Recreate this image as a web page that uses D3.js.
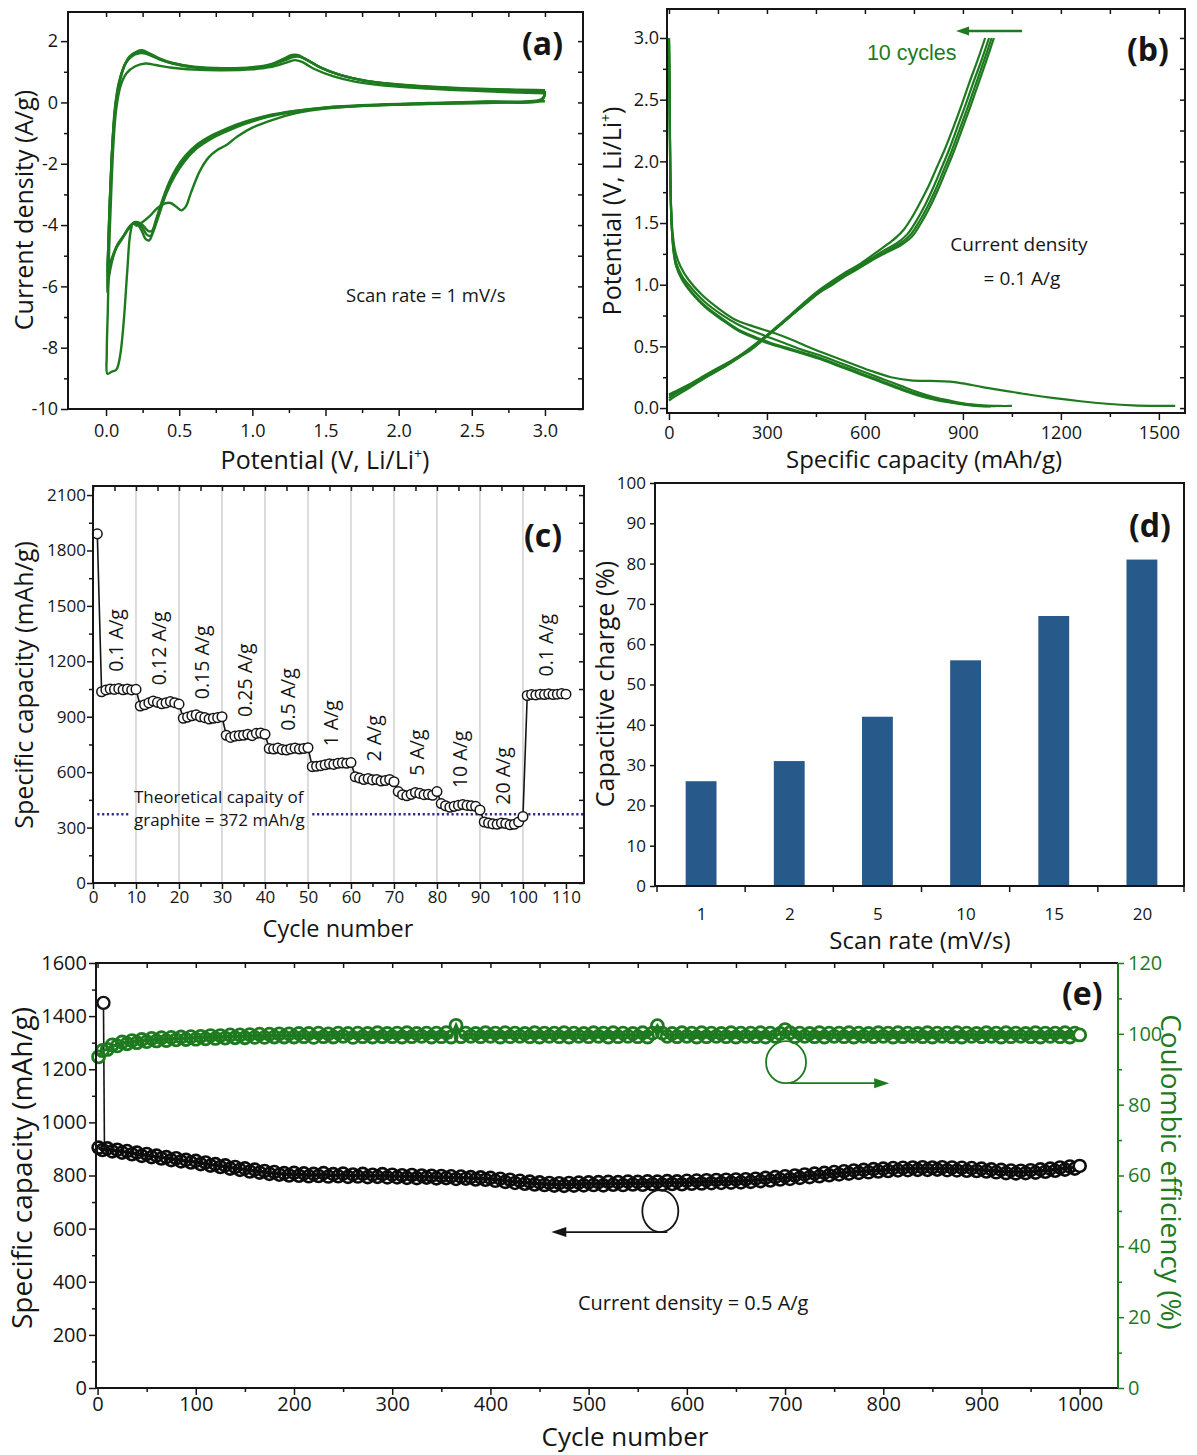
<!DOCTYPE html>
<html>
<head>
<meta charset="utf-8">
<title>Anode electrochemical performance</title>
<script src="https://cdn.jsdelivr.net/npm/d3@7"></script>
<style>
  html, body { margin: 0; padding: 0; background: #fff; }
  svg { display: block; }
</style>
</head>
<body>
<svg id="fig" width="1197" height="1455"></svg>
<script>
// ================= DATA =================

// (a) cyclic voltammograms at 1 mV/s, [potential (V), current density (A/g)]
const cvCycle1 = [
  [3.00, 0.04], [2.60, -0.02], [2.20, -0.05], [1.80, -0.10], [1.50, -0.20], [1.30, -0.35],
  [1.15, -0.55], [1.00, -0.82], [0.90, -1.10], [0.82, -1.40], [0.76, -1.55], [0.70, -1.80],
  [0.64, -2.25], [0.58, -2.95], [0.545, -3.40], [0.515, -3.52], [0.48, -3.40], [0.44, -3.28],
  [0.40, -3.30], [0.35, -3.45], [0.30, -3.70], [0.25, -3.90], [0.21, -4.02], [0.185, -3.95],
  [0.165, -4.30], [0.145, -5.50], [0.12, -7.20], [0.095, -8.30], [0.07, -8.72], [0.04, -8.78],
  [0.01, -8.85], [0.005, -8.2], [0.012, -6.8], [0.02, -5.0], [0.035, -3.0], [0.05, -1.4],
  [0.07, -0.2], [0.10, 0.55], [0.14, 0.95], [0.20, 1.18], [0.27, 1.27], [0.34, 1.22],
  [0.45, 1.13], [0.60, 1.07], [0.80, 1.05], [1.00, 1.08], [1.12, 1.15], [1.22, 1.28],
  [1.29, 1.38], [1.34, 1.32], [1.42, 1.10], [1.55, 0.86], [1.70, 0.68], [1.90, 0.55],
  [2.20, 0.45], [2.60, 0.36], [3.00, 0.30]
];
const cvCycle2 = [
  [3.00, 0.30], [2.98, 0.08], [2.60, 0.00], [2.20, -0.04], [1.80, -0.10], [1.50, -0.18],
  [1.30, -0.30], [1.10, -0.48], [0.95, -0.70], [0.82, -0.95], [0.72, -1.18], [0.62, -1.50],
  [0.54, -1.90], [0.47, -2.40], [0.41, -3.00], [0.36, -3.70], [0.32, -4.25], [0.295, -4.50],
  [0.27, -4.45], [0.245, -4.20], [0.215, -3.98], [0.185, -3.95], [0.15, -4.15], [0.11, -4.45],
  [0.07, -4.75], [0.04, -5.20], [0.02, -5.70], [0.008, -6.20], [0.012, -5.3], [0.02, -4.0],
  [0.032, -2.5], [0.045, -1.2], [0.06, -0.2], [0.085, 0.6], [0.12, 1.15], [0.16, 1.50],
  [0.21, 1.66], [0.245, 1.70], [0.29, 1.62], [0.36, 1.45], [0.45, 1.30], [0.60, 1.17],
  [0.80, 1.12], [1.00, 1.15], [1.12, 1.24], [1.21, 1.42], [1.27, 1.55], [1.31, 1.55],
  [1.36, 1.42], [1.45, 1.18], [1.58, 0.92], [1.75, 0.72], [2.00, 0.57], [2.40, 0.45],
  [3.00, 0.36]
];
const cvCycle3 = [
  [3.00, 0.36], [2.98, 0.10], [2.60, 0.02], [2.20, -0.03], [1.80, -0.09], [1.50, -0.17],
  [1.30, -0.28], [1.10, -0.45], [0.95, -0.66], [0.82, -0.90], [0.72, -1.12], [0.62, -1.44],
  [0.54, -1.82], [0.47, -2.30], [0.42, -2.80], [0.37, -3.45], [0.33, -4.05], [0.305, -4.35],
  [0.28, -4.32], [0.25, -4.10], [0.22, -3.95], [0.19, -3.93], [0.155, -4.10], [0.115, -4.40],
  [0.075, -4.70], [0.045, -5.05], [0.025, -5.40], [0.01, -5.70], [0.015, -4.8], [0.025, -3.4],
  [0.037, -2.0], [0.05, -0.9], [0.068, 0.0], [0.095, 0.75], [0.13, 1.25], [0.17, 1.52],
  [0.22, 1.63], [0.255, 1.64], [0.30, 1.56], [0.37, 1.40], [0.46, 1.27], [0.60, 1.15],
  [0.80, 1.10], [1.00, 1.13], [1.12, 1.22], [1.21, 1.38], [1.27, 1.50], [1.31, 1.52],
  [1.37, 1.40], [1.46, 1.15], [1.60, 0.90], [1.78, 0.70], [2.00, 0.58], [2.40, 0.46],
  [3.00, 0.38]
];
const cvCycle4 = [
  [3.00, 0.38], [2.98, 0.12], [2.60, 0.03], [2.20, -0.02], [1.80, -0.08], [1.50, -0.16],
  [1.30, -0.27], [1.10, -0.43], [0.95, -0.63], [0.82, -0.86], [0.72, -1.08], [0.62, -1.38],
  [0.54, -1.75], [0.48, -2.15], [0.43, -2.62], [0.38, -3.25], [0.34, -3.85], [0.315, -4.18],
  [0.29, -4.20], [0.26, -4.05], [0.23, -3.93], [0.20, -3.90], [0.16, -4.05], [0.12, -4.35],
  [0.08, -4.62], [0.05, -4.95], [0.028, -5.25], [0.012, -5.55], [0.016, -4.6], [0.026, -3.2],
  [0.038, -1.9], [0.052, -0.8], [0.07, 0.1], [0.10, 0.8], [0.135, 1.28], [0.175, 1.50],
  [0.225, 1.60], [0.26, 1.60], [0.31, 1.52], [0.38, 1.38], [0.47, 1.25], [0.60, 1.14],
  [0.80, 1.09], [1.00, 1.12], [1.12, 1.21], [1.22, 1.37], [1.28, 1.48], [1.32, 1.49],
  [1.38, 1.37], [1.47, 1.13], [1.60, 0.90], [1.78, 0.70], [2.00, 0.59], [2.40, 0.47],
  [3.00, 0.40]
];
const cvPotentialTicks = [0, 0.5, 1, 1.5, 2, 2.5, 3];
const cvPotentialMinor = [0.25, 0.75, 1.25, 1.75, 2.25, 2.75];
const cvCurrentTicks = [-10, -8, -6, -4, -2, 0, 2];
const cvCurrentMinor = [-9, -7, -5, -3, -1, 1];

// (b) galvanostatic charge/discharge at 0.1 A/g, [specific capacity (mAh/g), potential (V)]
const dischargeFirst = [
  [0, 3.0], [2, 2.6], [4, 2.0], [7, 1.6], [12, 1.4], [20, 1.26], [35, 1.15], [60, 1.04],
  [100, 0.92], [150, 0.81], [200, 0.72], [260, 0.66], [320, 0.61], [380, 0.55], [440, 0.48],
  [500, 0.42], [560, 0.36], [620, 0.30], [680, 0.25], [740, 0.225], [800, 0.22], [860, 0.215],
  [900, 0.20], [960, 0.17], [1030, 0.14], [1100, 0.11], [1180, 0.08], [1260, 0.055],
  [1340, 0.035], [1420, 0.022], [1500, 0.018], [1550, 0.018]
];
const dischargeSecond = [
  [0, 3.0], [2, 2.5], [4, 1.9], [8, 1.5], [14, 1.3], [22, 1.18], [40, 1.07], [70, 0.97],
  [110, 0.86], [160, 0.76], [210, 0.68], [260, 0.62], [310, 0.57], [360, 0.52], [410, 0.47],
  [460, 0.43], [510, 0.38], [560, 0.33], [610, 0.28], [660, 0.23], [710, 0.18], [760, 0.13],
  [810, 0.09], [860, 0.06], [910, 0.035], [960, 0.022], [1010, 0.017], [1050, 0.017]
];
const dischargeThird = [
  [0, 3.0], [2, 2.5], [4, 1.9], [8, 1.5], [14, 1.28], [22, 1.16], [40, 1.05], [70, 0.94],
  [110, 0.83], [160, 0.73], [210, 0.64], [260, 0.58], [310, 0.53], [360, 0.49], [410, 0.45],
  [460, 0.41], [510, 0.36], [560, 0.31], [610, 0.26], [660, 0.21], [710, 0.16], [760, 0.115],
  [810, 0.08], [860, 0.05], [910, 0.03], [960, 0.018], [1000, 0.015]
];
const dischargeFourth = [
  [0, 3.0], [2, 2.5], [4, 1.9], [8, 1.5], [14, 1.27], [22, 1.15], [40, 1.04], [70, 0.93],
  [110, 0.82], [160, 0.72], [210, 0.63], [260, 0.57], [310, 0.52], [360, 0.48], [410, 0.44],
  [460, 0.40], [510, 0.35], [560, 0.30], [610, 0.25], [660, 0.20], [710, 0.15], [760, 0.105],
  [810, 0.07], [860, 0.045], [910, 0.025], [950, 0.016], [985, 0.014]
];
const chargeFirst = [
  [0, 0.06], [15, 0.09], [60, 0.16], [113, 0.25], [160, 0.32], [208, 0.40], [250, 0.48],
  [291, 0.57], [330, 0.66], [374, 0.76], [420, 0.87], [457, 0.95], [500, 1.03], [540, 1.10],
  [580, 1.16], [623, 1.24], [660, 1.31], [694, 1.38], [720, 1.45], [745, 1.55], [770, 1.67],
  [795, 1.80], [820, 1.95], [845, 2.10], [870, 2.27], [895, 2.45], [920, 2.64], [945, 2.82],
  [968, 3.0]
];
const chargeSecond = [
  [0, 0.08], [15, 0.11], [60, 0.17], [113, 0.25], [160, 0.32], [208, 0.40], [250, 0.47],
  [291, 0.56], [330, 0.65], [374, 0.75], [420, 0.86], [457, 0.94], [500, 1.02], [540, 1.09],
  [580, 1.15], [623, 1.22], [660, 1.28], [700, 1.34], [730, 1.41], [758, 1.52], [783, 1.64],
  [808, 1.78], [832, 1.93], [857, 2.09], [882, 2.27], [907, 2.45], [932, 2.64], [957, 2.82],
  [980, 3.0]
];
const chargeThird = [
  [0, 0.10], [15, 0.12], [60, 0.18], [113, 0.26], [160, 0.33], [208, 0.41], [250, 0.48],
  [291, 0.57], [330, 0.65], [374, 0.75], [420, 0.85], [457, 0.93], [500, 1.01], [540, 1.08],
  [580, 1.14], [623, 1.21], [665, 1.27], [706, 1.33], [738, 1.40], [766, 1.51], [791, 1.63],
  [816, 1.77], [840, 1.92], [865, 2.08], [890, 2.26], [915, 2.44], [940, 2.63], [965, 2.82],
  [988, 3.0]
];
const chargeFourth = [
  [0, 0.11], [15, 0.13], [60, 0.19], [113, 0.27], [160, 0.34], [208, 0.41], [250, 0.49],
  [291, 0.57], [330, 0.65], [374, 0.75], [420, 0.85], [457, 0.93], [500, 1.00], [540, 1.07],
  [580, 1.13], [623, 1.20], [665, 1.26], [710, 1.32], [744, 1.39], [772, 1.50], [797, 1.62],
  [822, 1.76], [846, 1.91], [871, 2.07], [896, 2.25], [921, 2.43], [946, 2.62], [971, 2.81],
  [995, 3.0]
];
const gcdCapacityTicks = [0, 300, 600, 900, 1200, 1500];
const gcdCapacityMinor = [150, 450, 750, 1050, 1350];
const gcdPotentialTicks = [0, 0.5, 1, 1.5, 2, 2.5, 3];
const gcdPotentialMinor = [0.25, 0.75, 1.25, 1.75, 2.25, 2.75];

// (c) rate capability: specific capacity (mAh/g) for cycles 1..110
const rateCapacity = [
  1890,
  1035, 1045, 1050, 1048, 1052, 1046, 1050, 1045, 1048,
  958, 965, 975, 985, 978, 970, 975, 982, 976, 968,
  892, 898, 905, 910, 900, 895, 888, 892, 895, 900,
  800, 788, 795, 798, 800, 805, 798, 810, 812, 805,
  728, 725, 730, 722, 720, 726, 730, 725, 728, 732,
  630, 632, 635, 640, 645, 642, 648, 650, 648, 652,
  575, 568, 560, 565, 558, 560, 552, 555, 560, 548,
  495, 478, 472, 480, 490, 485, 478, 480, 475, 495,
  430, 418, 410, 415, 420, 425, 420, 418, 415, 395,
  330, 325, 320, 318, 325, 322, 315, 318, 330, 360,
  1015, 1020, 1018, 1022, 1020, 1024, 1020, 1022, 1025, 1022
];
const rateSteps = ["0.1 A/g", "0.12 A/g", "0.15 A/g", "0.25 A/g", "0.5 A/g", "1 A/g",
                   "2 A/g", "5 A/g", "10 A/g", "20 A/g", "0.1 A/g"];
const graphiteCapacity = 372;
const rateCycleTicks = [0, 10, 20, 30, 40, 50, 60, 70, 80, 90, 100, 110];
const rateCapacityTicks = [0, 300, 600, 900, 1200, 1500, 1800, 2100];

// (d) capacitive contribution vs scan rate
const scanRates = ["1", "2", "5", "10", "15", "20"];
const capacitiveCharge = [26, 31, 42, 56, 67, 81];
const capacitiveTicks = [0, 10, 20, 30, 40, 50, 60, 70, 80, 90, 100];

// (e) long-term cycling at 0.5 A/g, one record every 5 cycles (cycle 1, 5, 10 ... 1000)
const longCapacity = [
  905, 896, 902, 891, 897, 886, 892, 880, 886, 874, 881, 869, 875, 864, 869, 858, 865, 853, 859, 849,
  855, 843, 849, 837, 843, 832, 838, 826, 832, 821, 827, 815, 822, 811, 817, 806, 813, 803, 809, 800,
  810, 799, 808, 797, 806, 798, 809, 796, 805, 797, 807, 795, 804, 796, 806, 794, 803, 795, 805, 793,
  803, 793, 801, 791, 802, 790, 800, 792, 799, 789, 798, 790, 797, 787, 796, 788, 794, 785, 793, 784,
  791, 780, 788, 776, 784, 772, 780, 769, 777, 766, 774, 764, 772, 762, 771, 761, 772, 762, 773, 763,
  774, 764, 775, 763, 776, 765, 775, 764, 777, 766, 776, 765, 778, 767, 777, 766, 779, 768, 778, 767,
  780, 769, 781, 770, 782, 771, 783, 772, 784, 773, 785, 774, 786, 776, 788, 779, 791, 781, 794, 785,
  797, 787, 800, 791, 804, 794, 807, 797, 810, 801, 813, 804, 816, 807, 819, 810, 821, 812, 824, 815,
  826, 817, 828, 819, 829, 820, 830, 821, 831, 821, 830, 822, 831, 820, 830, 819, 829, 818, 828, 817,
  826, 815, 823, 812, 821, 809, 819, 808, 818, 809, 820, 811, 823, 814, 826, 818, 830, 822, 834, 826,
  836
];
const longEfficiency = [
  93.5, 95.3, 95.6, 96.9, 96.6, 97.7, 97.2, 98.1, 97.5, 98.4, 97.8, 98.7, 98.0, 98.9, 98.1, 99.0, 98.3, 99.1, 98.4, 99.2,
  98.5, 99.3, 98.6, 99.5, 98.7, 99.5, 98.8, 99.7, 98.9, 99.7, 98.9, 99.8, 99.0, 99.9, 99.0, 99.9, 99.1, 100.0, 99.1, 100.0,
  99.1, 100.1, 99.2, 100.1, 99.0, 100.2, 99.2, 100.0, 99.1, 100.2, 99.3, 100.1, 99.0, 100.2, 99.2, 100.1, 99.1, 100.3, 99.2, 100.1,
  99.2, 100.2, 99.1, 100.3, 99.2, 100.1, 99.3, 100.2, 99.1, 100.2, 99.2, 100.3, 99.1, 102.4, 99.2, 100.2, 99.3, 100.1, 99.2, 100.3,
  99.3, 100.2, 99.1, 100.3, 99.2, 100.2, 99.3, 100.1, 99.2, 100.3, 99.1, 100.2, 99.3, 100.2, 99.2, 100.3, 99.1, 100.2, 99.3, 100.1,
  99.2, 100.3, 99.3, 100.2, 99.1, 100.3, 99.2, 100.2, 99.3, 100.1, 99.2, 100.3, 99.1, 100.2, 102.3, 100.2, 99.3, 100.1, 99.2, 100.3,
  99.3, 100.2, 99.1, 100.3, 99.2, 100.2, 99.3, 100.1, 99.2, 100.3, 99.1, 100.2, 99.3, 100.2, 99.2, 100.3, 99.1, 100.2, 99.3, 100.1,
  101.2, 100.3, 99.2, 100.2, 99.3, 100.1, 99.2, 100.3, 99.1, 100.2, 99.3, 100.2, 99.2, 100.3, 99.1, 100.2, 99.3, 100.1, 99.2, 100.3,
  99.3, 100.2, 99.1, 100.3, 99.2, 100.2, 99.3, 100.1, 99.2, 100.3, 99.1, 100.2, 99.3, 100.2, 99.2, 100.3, 99.1, 100.2, 99.3, 100.1,
  99.2, 100.3, 99.3, 100.2, 99.1, 100.3, 99.2, 100.2, 99.3, 100.1, 99.2, 100.3, 99.1, 100.2, 99.3, 100.2, 99.2, 100.3, 99.1, 100.2,
  99.7
];
// formation point drawn apart from the long run: [cycle, capacity]
const formationCapacity = [[6, 1450], [7, 905]];
const longCycleTicks = [0, 100, 200, 300, 400, 500, 600, 700, 800, 900, 1000];
const longCapacityTicks = [0, 200, 400, 600, 800, 1000, 1200, 1400, 1600];
const efficiencyTicks = [0, 20, 40, 60, 80, 100, 120];

// ================= DRAWING =================
const FONT = '"Open Sans", "DejaVu Sans", sans-serif';
const INK = "#151515";
const GREEN = "#1e7a1e";
const svg = d3.select("#fig");

function axis(gen, scale, at, values, size, o = {}) {
  const a = gen(scale).tickValues(values).tickSizeInner(size).tickSizeOuter(0)
    .tickPadding(o.pad ?? 3).tickFormat(o.format || (() => ""));
  const s = svg.append("g").attr("transform", at).call(a);
  s.select(".domain").remove();
  s.selectAll(".tick line").attr("stroke", o.color || INK).attr("stroke-width", o.width || 1.5);
  s.selectAll(".tick text").attr("fill", o.color || INK)
    .attr("font-size", o.font || 17).attr("font-family", FONT);
  return s;
}
function frame(P, w = 2) {
  svg.append("rect").attr("x", P.x0).attr("y", P.y0)
    .attr("width", P.x1 - P.x0).attr("height", P.y1 - P.y0)
    .attr("fill", "none").attr("stroke", INK).attr("stroke-width", w);
}
function text(str, x, y, o = {}) {
  const t = svg.append("text")
    .attr("font-family", o.family || FONT).attr("font-size", o.size || 16)
    .attr("fill", o.color || INK).attr("text-anchor", o.anchor || "start")
    .attr("font-weight", o.weight || "normal");
  if (o.rotate) t.attr("transform", `translate(${x},${y}) rotate(${o.rotate})`);
  else t.attr("x", x).attr("y", y);
  t.text(str);
  return t;
}
function liLabel(x, y, o) {
  const t = text("Potential (V, Li/Li", x, y, o);
  t.append("tspan").attr("dy", -10).attr("font-size", 14).text("+");
  t.append("tspan").attr("dy", 10).text(")");
}
const plain = d => String(d);
const oneDec = d3.format(".1f");

// ---------- (a) ----------
{
  const P = {x0: 68, x1: 583, y0: 12, y1: 409};
  const x = d3.scaleLinear().domain([-0.26, 3.26]).range([P.x0, P.x1]);
  const y = d3.scaleLinear().domain([-10, 2.95]).range([P.y1, P.y0]);
  const line = d3.line().x(d => x(d[0])).y(d => y(d[1])).curve(d3.curveCatmullRom.alpha(0.5));
  svg.append("g").selectAll("path").data([cvCycle4, cvCycle3, cvCycle2, cvCycle1]).join("path")
    .attr("d", line).attr("fill", "none").attr("stroke", GREEN)
    .attr("stroke-width", 2.4).attr("stroke-linejoin", "round");
  frame(P);
  axis(d3.axisBottom, x, `translate(0,${P.y1})`, cvPotentialTicks, 7, {format: oneDec, pad: 8, font: 18});
  axis(d3.axisBottom, x, `translate(0,${P.y1})`, cvPotentialMinor, 4);
  axis(d3.axisLeft, y, `translate(${P.x0},0)`, cvCurrentTicks, 7, {format: plain, pad: 3, font: 18});
  axis(d3.axisLeft, y, `translate(${P.x0},0)`, cvCurrentMinor, 4);
  axis(d3.axisBottom, x, `translate(0,${P.y0})`, cvPotentialTicks.concat(cvPotentialMinor), 5);
  axis(d3.axisLeft, y, `translate(${P.x1},0)`, cvCurrentTicks.concat(cvCurrentMinor), 5);
  text("Current density (A/g)", 33, 210, {size: 25, anchor: "middle", rotate: -90});
  liLabel(325, 469, {size: 25, anchor: "middle"});
  text("(a)", 522, 55, {size: 32, weight: "bold"});
  text("Scan rate = 1 mV/s", 346, 302, {size: 18.5});
}

// ---------- (b) ----------
{
  const P = {x0: 667, x1: 1185, y0: 9, y1: 413};
  const x = d3.scaleLinear().domain([-6, 1580]).range([P.x0, P.x1]);
  const y = d3.scaleLinear().domain([-0.04, 3.235]).range([P.y1, P.y0]);
  const line = d3.line().x(d => x(d[0])).y(d => y(d[1])).curve(d3.curveCatmullRom.alpha(0.5));
  svg.append("g").selectAll("path")
    .data([dischargeFourth, dischargeThird, dischargeSecond, dischargeFirst,
           chargeFourth, chargeThird, chargeSecond, chargeFirst]).join("path")
    .attr("d", line).attr("fill", "none").attr("stroke", GREEN)
    .attr("stroke-width", 2.2).attr("stroke-linejoin", "round");
  frame(P);
  axis(d3.axisBottom, x, `translate(0,${P.y1})`, gcdCapacityTicks, 7, {format: plain, pad: 6, font: 18});
  axis(d3.axisBottom, x, `translate(0,${P.y1})`, gcdCapacityMinor, 4);
  axis(d3.axisLeft, y, `translate(${P.x0},0)`, gcdPotentialTicks, 7, {format: oneDec, pad: 1, font: 18});
  axis(d3.axisLeft, y, `translate(${P.x0},0)`, gcdPotentialMinor, 4);
  axis(d3.axisBottom, x, `translate(0,${P.y0})`, gcdCapacityTicks.concat(gcdCapacityMinor), 5);
  axis(d3.axisLeft, y, `translate(${P.x1},0)`, gcdPotentialTicks.concat(gcdPotentialMinor), 5);
  liLabel(621, 211, {size: 25, anchor: "middle", rotate: -90});
  text("Specific capacity (mAh/g)", 924, 468, {size: 24, anchor: "middle"});
  text("(b)", 1127, 61, {size: 32, weight: "bold"});
  text("Current density", 1019, 251, {size: 19, anchor: "middle"});
  text("= 0.1 A/g", 1022, 285, {size: 19, anchor: "middle"});
  // cycle-direction arrow
  const ay = y(3.057);
  svg.append("line").attr("x1", x(1081)).attr("x2", x(915)).attr("y1", ay).attr("y2", ay)
    .attr("stroke", GREEN).attr("stroke-width", 2.6);
  const tip = x(879);
  svg.append("path").attr("d", `M${tip},${ay} L${tip + 13},${ay - 4.5} L${tip + 13},${ay + 4.5} Z`)
    .attr("fill", GREEN);
  text("10 cycles", x(606), y(2.82), {size: 21.5, color: GREEN,
       family: '"Liberation Sans", Arial, sans-serif'});
}

// ---------- (c) ----------
{
  const P = {x0: 93, x1: 584, y0: 486, y1: 883};
  const x = d3.scaleLinear().domain([0, 114.2]).range([P.x0, P.x1]);
  const y = d3.scaleLinear().domain([0, 2149]).range([P.y1, P.y0]);
  const pts = rateCapacity.map((v, i) => [i + 1, v]);
  // step separators
  svg.append("g").selectAll("line").data(rateCycleTicks.slice(1, 11)).join("line")
    .attr("x1", d => x(d)).attr("x2", d => x(d)).attr("y1", P.y0).attr("y2", P.y1)
    .attr("stroke", "#c4c4c4").attr("stroke-width", 1.2);
  // theoretical graphite capacity
  const gy = y(graphiteCapacity);
  [[1, 8.2], [51, 114.2]].forEach(([a, b]) => {
    svg.append("line").attr("x1", x(a)).attr("x2", x(b)).attr("y1", gy).attr("y2", gy)
      .attr("stroke", "#2d2d86").attr("stroke-width", 2.6).attr("stroke-dasharray", "2.2,2.6");
  });
  svg.append("path").attr("d", d3.line().x(d => x(d[0])).y(d => y(d[1]))(pts))
    .attr("fill", "none").attr("stroke", INK).attr("stroke-width", 1.6);
  svg.append("g").selectAll("circle").data(pts).join("circle")
    .attr("cx", d => x(d[0])).attr("cy", d => y(d[1])).attr("r", 4.8)
    .attr("fill", "#fff").attr("stroke", INK).attr("stroke-width", 1.5);
  frame(P);
  const minorC = rateCycleTicks.map(d => d + 5).filter(d => d < 114);
  axis(d3.axisBottom, x, `translate(0,${P.y1})`, rateCycleTicks, 6, {format: plain, pad: 2, font: 17});
  axis(d3.axisBottom, x, `translate(0,${P.y1})`, minorC, 4);
  axis(d3.axisLeft, y, `translate(${P.x0},0)`, rateCapacityTicks, 6, {format: plain, pad: 1, font: 17});
  axis(d3.axisLeft, y, `translate(${P.x0},0)`, rateCapacityTicks.slice(0, 7).map(d => d + 150), 4);
  axis(d3.axisBottom, x, `translate(0,${P.y0})`, rateCycleTicks.concat(minorC), 5);
  axis(d3.axisLeft, y, `translate(${P.x1},0)`,
       rateCapacityTicks.concat(rateCapacityTicks.slice(0, 7).map(d => d + 150)), 5);
  // current-density step labels, set above each group of cycles
  rateSteps.forEach((lab, i) => {
    const grp = rateCapacity.slice(i === 0 ? 1 : i * 10, i * 10 + 10);
    const cx = x(i * 10 + 5.3);
    const base = y(d3.mean(grp)) - 18;
    text(lab, cx + 7, base, {size: 19.5, rotate: -90});
  });
  text("Theoretical capaity of", 134, 803, {size: 17});
  text("graphite = 372 mAh/g", 134, 826, {size: 17});
  text("Specific capacity (mAh/g)", 33, 685, {size: 25, anchor: "middle", rotate: -90});
  text("Cycle number", 338, 937, {size: 23.5, anchor: "middle"});
  text("(c)", 524, 547, {size: 32, weight: "bold"});
}

// ---------- (d) ----------
{
  const P = {x0: 655, x1: 1184, y0: 483, y1: 886};
  const x = d3.scaleBand().domain(scanRates).range([P.x0 + 2, P.x1 + 2])
    .paddingInner(0.65).paddingOuter(0.325);
  const y = d3.scaleLinear().domain([0, 100]).range([P.y1, P.y0]);
  svg.append("g").selectAll("rect").data(scanRates).join("rect")
    .attr("x", d => x(d)).attr("width", x.bandwidth())
    .attr("y", (d, i) => y(capacitiveCharge[i]))
    .attr("height", (d, i) => y(0) - y(capacitiveCharge[i]))
    .attr("fill", "#27598a");
  frame(P);
  // labels under each bar, ticks on the boundaries between bars
  axis(d3.axisBottom, d3.scalePoint().domain(scanRates).range([x(scanRates[0]) + x.bandwidth() / 2,
       x(scanRates[5]) + x.bandwidth() / 2]), `translate(0,${P.y1})`, scanRates, 0,
       {format: plain, pad: 22, font: 17});
  const bounds = scanRates.map(d => x(d) - x.step() * 0.325).concat([P.x1]);
  svg.append("g").selectAll("line").data(bounds).join("line")
    .attr("x1", d => d).attr("x2", d => d).attr("y1", P.y1).attr("y2", P.y1 + 6)
    .attr("stroke", INK).attr("stroke-width", 1.5);
  axis(d3.axisLeft, y, `translate(${P.x0},0)`, capacitiveTicks, 5, {format: plain, pad: 4, font: 17});
  text("Capacitive charge (%)", 614, 684, {size: 25, anchor: "middle", rotate: -90});
  text("Scan rate (mV/s)", 920, 949, {size: 24, anchor: "middle"});
  text("(d)", 1129, 537, {size: 32, weight: "bold"});
}

// ---------- (e) ----------
{
  const P = {x0: 96, x1: 1118, y0: 963, y1: 1388};
  const x = d3.scaleLinear().domain([-1.6, 1039]).range([P.x0, P.x1]);
  const y = d3.scaleLinear().domain([0, 1600]).range([P.y1, P.y0]);
  const yR = d3.scaleLinear().domain([0, 120]).range([P.y1, P.y0]);
  const cyc = i => Math.max(1, i * 5);
  const last = longCapacity.length - 1;
  // formation cycle and its drop onto the long run
  svg.append("path").attr("d", d3.line().x(d => x(d[0])).y(d => y(d[1]))(formationCapacity))
    .attr("stroke", INK).attr("stroke-width", 1.6).attr("fill", "none");
  // capacity: line + open symbols
  svg.append("path")
    .attr("d", d3.line().x((d, i) => x(cyc(i))).y(d => y(d))(longCapacity))
    .attr("fill", "none").attr("stroke", "#0c0c0c").attr("stroke-width", 3);
  svg.append("g").selectAll("circle").data(longCapacity).join("circle")
    .attr("cx", (d, i) => x(cyc(i))).attr("cy", d => y(d)).attr("r", 6)
    .attr("fill", (d, i) => i === last ? "#fff" : "none")
    .attr("stroke", "#0c0c0c").attr("stroke-width", 2.6);
  svg.append("circle").attr("cx", x(formationCapacity[0][0])).attr("cy", y(formationCapacity[0][1]))
    .attr("r", 6).attr("fill", "#fff").attr("stroke", INK).attr("stroke-width", 2.4);
  // coulombic efficiency: line + open symbols
  svg.append("path")
    .attr("d", d3.line().x((d, i) => x(cyc(i))).y(d => yR(d))(longEfficiency))
    .attr("fill", "none").attr("stroke", GREEN).attr("stroke-width", 3);
  svg.append("g").selectAll("circle").data(longEfficiency).join("circle")
    .attr("cx", (d, i) => x(cyc(i))).attr("cy", d => yR(d)).attr("r", 6)
    .attr("fill", (d, i) => i === last ? "#fff" : "none")
    .attr("stroke", GREEN).attr("stroke-width", 2.8);
  // frame: black on three sides, green right axis
  svg.append("path").attr("d", `M${P.x1},${P.y0} H${P.x0} V${P.y1} H${P.x1}`)
    .attr("fill", "none").attr("stroke", INK).attr("stroke-width", 2);
  svg.append("line").attr("x1", P.x1).attr("x2", P.x1).attr("y1", P.y0).attr("y2", P.y1)
    .attr("stroke", GREEN).attr("stroke-width", 2);
  const minorCyc = longCycleTicks.map(d => d + 50).filter(d => d < 1039);
  axis(d3.axisBottom, x, `translate(0,${P.y1})`, longCycleTicks, 7, {format: plain, pad: 2, font: 20});
  axis(d3.axisBottom, x, `translate(0,${P.y1})`, minorCyc, 4);
  axis(d3.axisBottom, x, `translate(0,${P.y0})`, longCycleTicks.concat(minorCyc), 5);
  axis(d3.axisLeft, y, `translate(${P.x0},0)`, longCapacityTicks, 7, {format: plain, pad: 2, font: 20});
  axis(d3.axisLeft, y, `translate(${P.x0},0)`, longCapacityTicks.slice(0, 8).map(d => d + 100), 4);
  axis(d3.axisRight, yR, `translate(${P.x1},0)`, efficiencyTicks, 6,
       {format: plain, pad: 4, font: 20, color: GREEN});
  axis(d3.axisRight, yR, `translate(${P.x1},0)`, efficiencyTicks.slice(0, 6).map(d => d + 10), 4,
       {color: GREEN});
  // series indicators: ellipse around each band with an arrow to its axis
  const gx = x(701), gcy = yR(92);
  svg.append("ellipse").attr("cx", gx).attr("cy", gcy).attr("rx", 20).attr("ry", 21)
    .attr("fill", "none").attr("stroke", GREEN).attr("stroke-width", 1.8);
  const gb = gcy + 21, gTip = x(806);
  svg.append("line").attr("x1", gx + 4).attr("x2", gTip - 12).attr("y1", gb).attr("y2", gb)
    .attr("stroke", GREEN).attr("stroke-width", 1.8);
  svg.append("path").attr("d", `M${gTip},${gb} L${gTip - 15},${gb - 5} L${gTip - 15},${gb + 5} Z`)
    .attr("fill", GREEN);
  const bx = x(573), bcy = y(666);
  svg.append("ellipse").attr("cx", bx).attr("cy", bcy).attr("rx", 18).attr("ry", 21)
    .attr("fill", "none").attr("stroke", INK).attr("stroke-width", 1.8);
  const bb = bcy + 21, bTip = x(462);
  svg.append("line").attr("x1", bx + 7).attr("x2", bTip + 12).attr("y1", bb).attr("y2", bb)
    .attr("stroke", INK).attr("stroke-width", 1.8);
  svg.append("path").attr("d", `M${bTip},${bb} L${bTip + 15},${bb - 5} L${bTip + 15},${bb + 5} Z`)
    .attr("fill", INK);
  text("Current density = 0.5 A/g", 578, 1310, {size: 20});
  text("Specific capacity (mAh/g)", 32, 1168, {size: 28, anchor: "middle", rotate: -90});
  text("Cycle number", 625, 1446, {size: 26, anchor: "middle"});
  text("Coulombic efficiency (%)", 1161, 1172, {size: 28, anchor: "middle", rotate: 90, color: GREEN});
  text("(e)", 1062, 1005, {size: 32, weight: "bold"});
}
</script>
</body>
</html>
